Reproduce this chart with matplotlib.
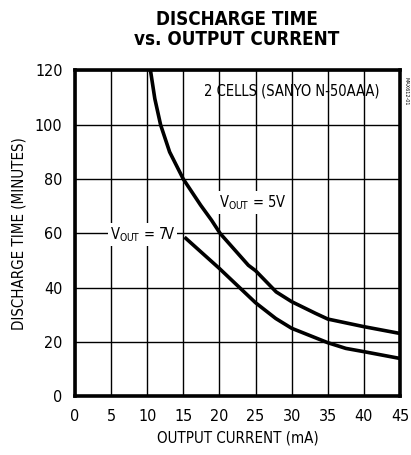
import numpy as np
from matplotlib import pyplot as plt

font = {'family': 'DejaVu Sans', 'stretch': 'condensed', 'weight': 'normal', 'size': 11.5}
plt.rc('font', **font)
plt.rcParams['mathtext.fontset'] = 'custom'
plt.rcParams['mathtext.rm'] = 'DejaVu Sans:stretch=condensed'

# data
i_5v = [10.45, 11.05, 11.85, 13.1, 15.0, 17.4, 18.9, 20.1, 24.0, 25.0, 27.85, 30.0, 33.3, 35.0, 40.0, 45.0]
t_5v = [120, 109.6, 100, 90, 80, 70.4, 64.9, 60, 48.3, 46.3, 38.5, 34.9, 30.6, 28.5, 25.7, 23.2]
i_7v = [15.35, 20.0, 25.0, 27.8, 30.0, 35.0, 37.5, 40.0, 45.0]
t_7v = [58.2, 47.1, 34.5, 28.7, 25.1, 19.8, 17.7, 16.5, 14.0]

x_ticks = [0, 5, 10, 15, 20, 25, 30, 35, 40, 45]
y_ticks = [0, 20, 40, 60, 80, 100, 120]

line_width = 2.6
note_size = 10.5

fig = plt.figure(figsize=(4.11, 4.55), dpi=100)
ax = fig.add_axes([0.1825, 0.1286, 0.7908, 0.7165])

ax.plot(i_5v, t_5v, color='k', linewidth=line_width, zorder=3)
ax.plot(i_7v, t_7v, color='k', linewidth=line_width, zorder=3)

ax.set_xlim(0, 45)
ax.set_ylim(0, 120)
ax.set_xticks(x_ticks)
ax.set_yticks(y_ticks)
ax.tick_params(length=0, pad=9)
ax.grid(True, color='k', linewidth=1.0)
ax.set_axisbelow(True)
for s in ax.spines.values():
    s.set_linewidth(2.6)

ax.set_xlabel('OUTPUT CURRENT (mA)', fontsize=10.8, labelpad=5)
ax.set_ylabel('DISCHARGE TIME (MINUTES)', fontsize=10.8, labelpad=6)

fig.text(0.577, 0.935, 'DISCHARGE TIME\nvs. OUTPUT CURRENT', ha='center', va='center',
         fontsize=13.5, fontweight='bold', linespacing=1.1)

ax.text(42.2, 112.5, '2 CELLS (SANYO N-50AAA)', ha='right', va='center', zorder=4,
        fontsize=note_size)
ax.text(20.0, 71.5, r'V$_{\mathregular{OUT}}$ = 5V', ha='left', va='center', zorder=4,
        fontsize=note_size, bbox=dict(facecolor='white', edgecolor='none', pad=1.5))
ax.text(4.8, 59.5, r'V$_{\mathregular{OUT}}$ = 7V', ha='left', va='center', zorder=4,
        fontsize=note_size, bbox=dict(facecolor='white', edgecolor='none', pad=1.5))
fig.text(0.987, 0.80, 'MAX612-01', rotation=-90, fontsize=4, ha='center', va='center')

plt.savefig('out.png', dpi=100)
